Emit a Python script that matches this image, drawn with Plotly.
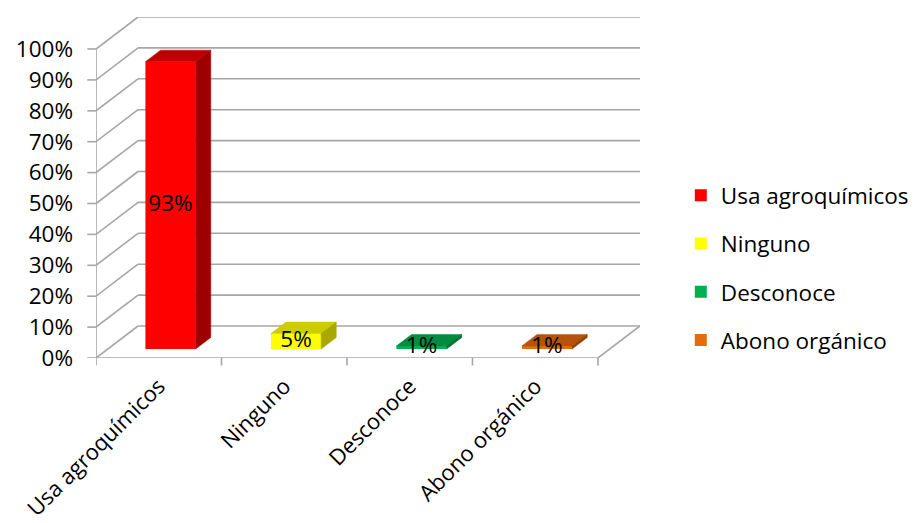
import plotly.graph_objects as go

# ---- data -------------------------------------------------------------
categories = ["Usa agroquímicos", "Ninguno", "Desconoce", "Abono orgánico"]
values = [93, 5, 1, 1]
value_labels = ["93%", "5%", "1%", "1%"]

front_colors = ["#FF0000", "#FFFF00", "#00B050", "#E46C0A"]
top_colors = ["#C00000", "#CCCC00", "#008C3F", "#B45309"]
side_colors = ["#9E0000", "#A8A800", "#006E31", "#8E4207"]

y_ticks = list(range(0, 101, 10))
y_tick_text = [f"{t}%" for t in y_ticks]

# ---- oblique 3-D projection parameters (in data units) -----------------
DEPTH_X = 0.335    # horizontal shift of the back wall, in categories
DEPTH_Y = 10.36    # vertical shift of the back wall, in percentage points
BAR_FRONT = 0.28   # depth fraction of the bar front faces
BAR_BACK = 0.64    # depth fraction of the bar back faces
BAR_WIDTH = 0.40

FONT = "Open Sans"
FONT_SIZE = 22.5
CAT_FONT_SIZE = 22
GRID = "#A6A6A6"

n = len(categories)
fdx, fdy = BAR_FRONT * DEPTH_X, BAR_FRONT * DEPTH_Y
bdx, bdy = (BAR_BACK - BAR_FRONT) * DEPTH_X, (BAR_BACK - BAR_FRONT) * DEPTH_Y

fig = go.Figure()

# front faces of the bars (also provide the legend entries)
for i, (cat, v) in enumerate(zip(categories, values)):
    fig.add_trace(go.Bar(
        x=[i + 0.5 + fdx], y=[v], base=fdy, width=BAR_WIDTH,
        marker=dict(color=front_colors[i], line=dict(width=0)),
        name=cat, legendgroup=cat, hoverinfo="skip",
    ))

# top and side faces
for i, (cat, v) in enumerate(zip(categories, values)):
    xl = i + 0.5 + fdx - BAR_WIDTH / 2
    xr = i + 0.5 + fdx + BAR_WIDTH / 2
    yb = fdy
    yt = fdy + v
    fig.add_trace(go.Scatter(
        x=[xl, xr, xr + bdx, xl + bdx, xl],
        y=[yt, yt, yt + bdy, yt + bdy, yt],
        fill="toself", fillcolor=top_colors[i], mode="lines",
        line=dict(width=0.5, color=top_colors[i]),
        showlegend=False, legendgroup=cat, hoverinfo="skip",
    ))
    fig.add_trace(go.Scatter(
        x=[xr, xr + bdx, xr + bdx, xr, xr],
        y=[yb, yb + bdy, yt + bdy, yt, yb],
        fill="toself", fillcolor=side_colors[i], mode="lines",
        line=dict(width=0.5, color=side_colors[i]),
        showlegend=False, legendgroup=cat, hoverinfo="skip",
    ))

# value labels centred on the front faces
fig.add_trace(go.Scatter(
    x=[i + 0.5 + fdx for i in range(n)],
    y=[fdy + v / 2 for v in values],
    text=value_labels, mode="text",
    textfont=dict(family=FONT, size=FONT_SIZE, color="black"),
    showlegend=False, hoverinfo="skip",
))

# walls, floor and gridlines
shapes = []
line = dict(color=GRID, width=1.6)
for t in y_ticks:
    # back wall
    shapes.append(dict(type="line", xref="x", yref="y", layer="below",
                       x0=DEPTH_X, y0=t + DEPTH_Y, x1=n + DEPTH_X, y1=t + DEPTH_Y, line=line))
    # side wall
    shapes.append(dict(type="line", xref="x", yref="y", layer="below",
                       x0=0, y0=t, x1=DEPTH_X, y1=t + DEPTH_Y, line=line))
# front edge of the side wall (value axis)
shapes.append(dict(type="line", xref="x", yref="y", layer="below",
                   x0=0, y0=0, x1=0, y1=100, line=line))
# floor front and right edges
shapes.append(dict(type="line", xref="x", yref="y", layer="below",
                   x0=0, y0=0, x1=n, y1=0, line=line))
shapes.append(dict(type="line", xref="x", yref="y", layer="below",
                   x0=n, y0=0, x1=n + DEPTH_X, y1=DEPTH_Y, line=line))
# value axis tick marks
for t in y_ticks:
    shapes.append(dict(type="line", xref="paper", yref="y", layer="below",
                       x0=-0.016, y0=t, x1=0, y1=t, line=line))
# category axis tick marks
for k in range(n + 1):
    shapes.append(dict(type="line", xref="x", yref="paper", layer="below",
                       x0=k, y0=0, x1=k, y1=-0.022, line=line))

fig.update_layout(
    width=915, height=523,
    margin=dict(l=96, r=275, t=17, b=165, autoexpand=False),
    paper_bgcolor="white", plot_bgcolor="white",
    barmode="overlay",
    shapes=shapes,
    font=dict(family=FONT, size=FONT_SIZE, color="black"),
    xaxis=dict(
        range=[0, n + DEPTH_X], showgrid=False, zeroline=False, showline=False,
        tickmode="array", tickvals=[i + 0.5 for i in range(n)], ticktext=categories,
        tickangle=-45, ticks="", ticklabelstandoff=10, automargin=False,
        tickfont=dict(family=FONT, size=CAT_FONT_SIZE, color="black"),
    ),
    yaxis=dict(
        range=[0, 100 + DEPTH_Y], showgrid=False, zeroline=False, showline=False,
        tickmode="array", tickvals=y_ticks, ticktext=y_tick_text,
        ticks="", ticklabelstandoff=22, automargin=False,
        tickfont=dict(family=FONT, size=FONT_SIZE, color="black"),
    ),
    legend=dict(
        x=1.075, xanchor="left", y=0.265, yanchor="middle",
        traceorder="grouped", tracegroupgap=16,
        font=dict(family=FONT, size=FONT_SIZE, color="black"),
        bgcolor="rgba(0,0,0,0)",
    ),
    showlegend=True,
)

fig.write_html("out.html")
